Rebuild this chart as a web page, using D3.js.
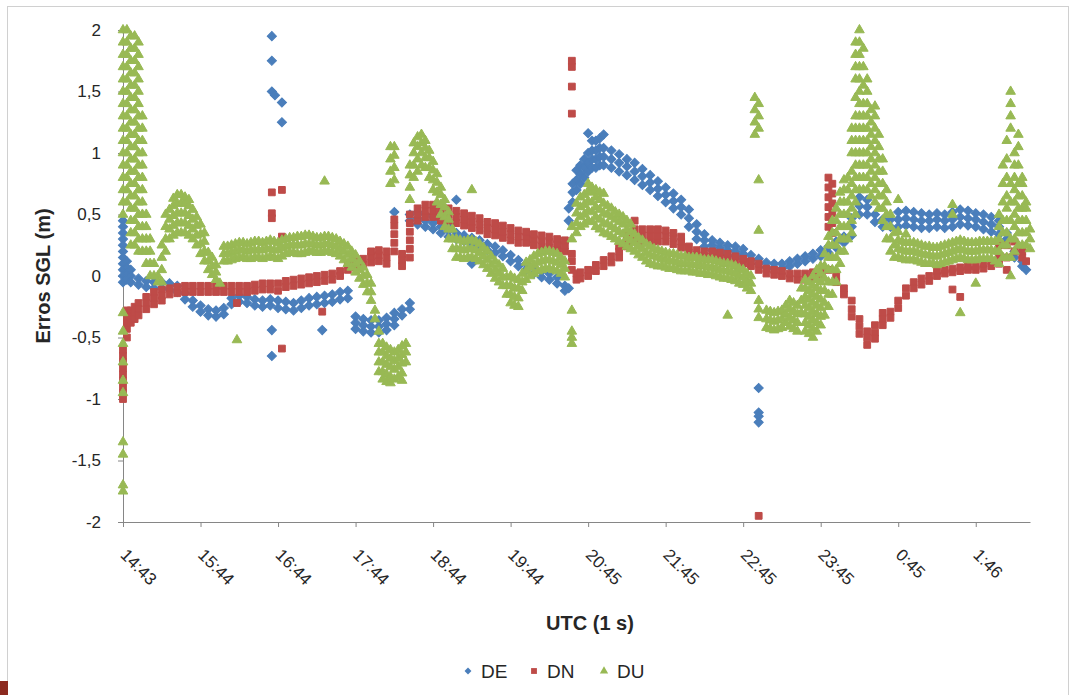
<!DOCTYPE html>
<html>
<head>
<meta charset="utf-8">
<script src="https://cdn.jsdelivr.net/npm/d3@7"></script>
<style>
  body { margin: 0; background: #fff; }
  svg { display: block; font-family: "Liberation Sans", Arial, sans-serif; }
</style>
</head>
<body>
<div id="chart"></div>
<script>
// x = hours elapsed since 14:43 (one tick per hour), y = error in metres
const tickHours = [0, 1, 2, 3, 4, 5, 6, 7, 8, 9, 10, 11]
const tickLabels = ["14:43", "15:44", "16:44", "17:44", "18:44", "19:44", "20:45", "21:45", "22:45", "23:45", "0:45", "1:46"]
const yTicks = [-2, -1.5, -1, -0.5, 0, 0.5, 1, 1.5, 2]

// each row: [hour, value, value, ...]
const deRows = [
  [0, 0.45, 0.4, 0.35, 0.3, 0.25, 0.2, 0.15, 0.1, 0.05, 0, -0.05], [0.05, 0.12, 0.07, 0.02, -0.03],
  [0.1, 0.05, 0, -0.05], [0.2, -0.02, -0.07], [0.3, -0.04, -0.09], [0.4, -0.05, -0.1], [0.5, -0.05, -0.1],
  [0.6, -0.06, -0.11], [0.7, -0.08, -0.13], [0.8, -0.14, -0.19], [0.9, -0.2, -0.25], [1.0, -0.24, -0.29],
  [1.1, -0.27, -0.32], [1.2, -0.28, -0.33], [1.3, -0.26, -0.31], [1.4, -0.18, -0.23], [1.5, -0.16, -0.21],
  [1.6, -0.17, -0.22], [1.7, -0.19, -0.24], [1.8, -0.2, -0.25], [1.9, -0.19, -0.24],
  [1.92, 1.95, 1.75, 1.5, -0.44, -0.65], [1.96, 1.47], [2.0, -0.2, -0.26], [2.05, 1.41, 1.25],
  [2.1, -0.21, -0.27], [2.2, -0.22, -0.28], [2.3, -0.2, -0.26], [2.4, -0.18, -0.24], [2.5, -0.17, -0.23],
  [2.57, -0.44], [2.6, -0.16, -0.22], [2.7, -0.15, -0.21], [2.8, -0.13, -0.19], [2.9, -0.12, -0.18],
  [3.0, -0.33, -0.38, -0.43], [3.1, -0.35, -0.4, -0.45], [3.2, -0.36, -0.41, -0.46], [3.3, -0.36, -0.41, -0.46],
  [3.4, -0.34, -0.39, -0.44], [3.5, -0.3, -0.35, -0.4, 0.52], [3.6, -0.27, -0.32], [3.7, -0.22, -0.27, 0.45, 0.5],
  [3.8, 0.42, 0.47, 0.52], [3.9, 0.4, 0.45, 0.5], [4.0, 0.38, 0.43, 0.48], [4.1, 0.35, 0.4, 0.45],
  [4.2, 0.32, 0.37, 0.42], [4.3, 0.3, 0.35, 0.62], [4.4, 0.28, 0.33], [4.5, 0.26, 0.31, 0.1], [4.6, 0.24, 0.29],
  [4.7, 0.21, 0.26], [4.8, 0.19, 0.24], [4.9, 0.16, 0.21], [5.0, 0.12, 0.17], [5.1, 0.08, 0.13], [5.2, 0.05, 0.1],
  [5.3, 0.02, 0.07], [5.4, -0.01, 0.04], [5.5, -0.03, 0.02], [5.6, -0.06, -0.01], [5.7, -0.08, -0.12],
  [5.75, -0.1, 0.45, 0.55], [5.8, 0.6, 0.68, 0.75], [5.85, 0.7, 0.78, 0.86], [5.9, 0.75, 0.83, 0.9],
  [5.95, 0.8, 0.88, 0.95], [6.0, 0.85, 0.92, 1.0, 1.16], [6.05, 0.88, 0.95, 1.02, 1.1], [6.1, 0.88, 0.95, 1.02, 1.1],
  [6.15, 0.9, 0.97, 1.04, 1.12], [6.2, 0.9, 0.97, 1.04, 1.15], [6.3, 0.88, 0.95, 1.02], [6.4, 0.85, 0.92, 0.99],
  [6.5, 0.82, 0.89, 0.95], [6.6, 0.78, 0.85, 0.92], [6.7, 0.74, 0.81, 0.87], [6.8, 0.7, 0.76, 0.82],
  [6.9, 0.65, 0.71, 0.77], [7.0, 0.6, 0.66, 0.72], [7.1, 0.55, 0.61, 0.67], [7.2, 0.5, 0.56, 0.62],
  [7.3, 0.4, 0.47, 0.54], [7.4, 0.3, 0.36, 0.42], [7.5, 0.24, 0.29, 0.34], [7.6, 0.21, 0.25, 0.29],
  [7.7, 0.19, 0.23, 0.27], [7.8, 0.17, 0.21, 0.25], [7.9, 0.16, 0.2, 0.24], [8.0, 0.14, 0.18, 0.22],
  [8.1, 0.13, 0.17], [8.2, 0.1, 0.14, -0.91, -1.11, -1.14, -1.19], [8.3, 0.07, 0.11], [8.4, 0.06, 0.1],
  [8.5, 0.06, 0.1], [8.6, 0.08, 0.12], [8.7, 0.1, 0.14], [8.8, 0.12, 0.16], [8.9, 0.14, 0.18], [9.0, 0.16, 0.21],
  [9.1, 0.19, 0.24], [9.2, 0.23, 0.28], [9.3, 0.27, 0.32], [9.4, 0.33, 0.4, 0.47], [9.5, 0.5, 0.57, 0.64],
  [9.6, 0.5, 0.56, 0.62], [9.7, 0.44, 0.5], [9.8, 0.4, 0.46], [9.9, 0.4, 0.46], [10.0, 0.4, 0.46, 0.52],
  [10.1, 0.41, 0.47, 0.53], [10.2, 0.4, 0.46, 0.52], [10.3, 0.39, 0.45, 0.51], [10.4, 0.39, 0.45, 0.5],
  [10.5, 0.4, 0.46, 0.51], [10.6, 0.39, 0.45, 0.5], [10.7, 0.4, 0.46, 0.52], [10.8, 0.42, 0.48, 0.54],
  [10.9, 0.41, 0.47, 0.53], [11.0, 0.4, 0.46, 0.51], [11.1, 0.38, 0.44, 0.5], [11.2, 0.36, 0.42, 0.48],
  [11.3, 0.34, 0.4, 0.45], [11.4, 0.3, 0.35], [11.5, 0.15, 0.2], [11.6, 0.08, 0.12], [11.65, 0.05]
]

const dnRows = [
  [0, -0.6, -0.65, -0.7, -0.75, -0.8, -0.85, -0.9, -0.95, -1.0], [0.05, -0.28, -0.33, -0.38, -0.43, -0.5],
  [0.1, -0.28, -0.33, -0.38], [0.15, -0.25, -0.3, -0.35], [0.2, -0.22, -0.27, -0.32], [0.3, -0.17, -0.22, -0.27],
  [0.4, -0.13, -0.18, -0.23], [0.5, -0.11, -0.16, -0.2], [0.6, -0.1, -0.15], [0.7, -0.09, -0.14],
  [0.8, -0.08, -0.13], [0.9, -0.08, -0.13], [1.0, -0.08, -0.13], [1.1, -0.08, -0.13], [1.2, -0.08, -0.13],
  [1.3, -0.08, -0.13], [1.4, -0.08, -0.13], [1.47, -0.22], [1.5, -0.08, -0.13], [1.6, -0.08, -0.13],
  [1.7, -0.07, -0.12], [1.8, -0.06, -0.11], [1.9, -0.06, -0.11], [1.92, 0.68, 0.51, 0.47], [2.0, -0.06, -0.12],
  [2.05, 0.7, 0.32, -0.59], [2.1, -0.04, -0.09], [2.2, -0.03, -0.08], [2.3, -0.02, -0.07], [2.4, -0.01, -0.06],
  [2.5, 0, -0.05], [2.57, -0.29], [2.6, 0.01, -0.04], [2.7, 0.02, -0.03], [2.8, 0.04, 0], [2.9, 0.05, 0.1],
  [3.0, 0.07, 0.12], [3.1, 0.09, 0.14], [3.2, 0.11, 0.16, 0.2], [3.3, 0.12, 0.17, 0.21], [3.4, 0.1, 0.15, 0.2],
  [3.5, 0.2, 0.27, 0.34, 0.41, 0.46], [3.6, 0.08, 0.13, 0.18], [3.7, 0.15, 0.22, 0.29, 0.36, 0.43, 0.5],
  [3.8, 0.45, 0.5, 0.55], [3.9, 0.48, 0.53, 0.58], [4.0, 0.48, 0.53, 0.58], [4.1, 0.45, 0.5, 0.55],
  [4.2, 0.45, 0.5, 0.55], [4.3, 0.43, 0.48, 0.53], [4.4, 0.41, 0.46, 0.51], [4.5, 0.39, 0.44, 0.49],
  [4.6, 0.37, 0.42, 0.47], [4.7, 0.34, 0.39, 0.44], [4.8, 0.33, 0.38, 0.43], [4.9, 0.31, 0.36, 0.41],
  [5.0, 0.29, 0.34, 0.39], [5.1, 0.27, 0.32, 0.37], [5.2, 0.27, 0.32, 0.36], [5.3, 0.25, 0.3, 0.34],
  [5.4, 0.24, 0.29, 0.33], [5.5, 0.23, 0.28, 0.32], [5.6, 0.21, 0.26, 0.3], [5.7, 0.2, 0.25, 0.29],
  [5.79, 0.05, 0.12, 0.18, 1.32, 1.54, 1.7, 1.75], [5.85, -0.03, 0.02], [5.9, -0.02, 0.03], [6.0, 0, 0.05],
  [6.1, 0.04, 0.09], [6.2, 0.08, 0.13], [6.3, 0.11, 0.16], [6.4, 0.15, 0.2, 0.24], [6.5, 0.24, 0.29, 0.33],
  [6.6, 0.28, 0.33, 0.38, 0.45], [6.7, 0.28, 0.33, 0.38], [6.8, 0.28, 0.33, 0.38], [6.9, 0.28, 0.33, 0.38],
  [7.0, 0.28, 0.33, 0.37], [7.1, 0.26, 0.31, 0.35], [7.2, 0.23, 0.28, 0.32], [7.3, 0.19, 0.24], [7.4, 0.17, 0.21],
  [7.5, 0.16, 0.2], [7.6, 0.16, 0.2], [7.7, 0.15, 0.19], [7.8, 0.14, 0.18], [7.9, 0.12, 0.16], [8.0, 0.1, 0.14],
  [8.1, 0.08, 0.12], [8.2, 0.05, 0.1, -1.95], [8.3, 0.02, 0.06], [8.4, 0.01, 0.05], [8.5, 0, 0.04],
  [8.6, -0.02, 0.02], [8.7, -0.03, 0.02], [8.8, -0.03, 0.02], [8.9, -0.02, 0.03], [9.0, 0, 0.05],
  [9.1, 0.05, 0.4, 0.48, 0.56, 0.64, 0.72, 0.8], [9.15, 0.35, 0.43, 0.51, 0.59, 0.67, 0.75], [9.2, -0.05, 0],
  [9.3, -0.1, -0.15], [9.4, -0.2, -0.27, -0.33], [9.5, -0.35, -0.41, -0.47], [9.6, -0.45, -0.5, -0.56],
  [9.7, -0.4, -0.46, -0.51], [9.8, -0.3, -0.35, -0.4], [9.9, -0.29, -0.34], [10.0, -0.2, -0.26],
  [10.1, -0.1, -0.16], [10.2, -0.05, -0.1], [10.3, -0.02, -0.07], [10.4, 0, -0.04], [10.5, 0, 0.04],
  [10.6, 0.02, 0.05], [10.7, 0.03, 0.06, -0.11], [10.8, 0.04, 0.07, -0.17], [10.9, 0.05, 0.08],
  [11.0, 0.05, 0.08], [11.1, 0.06, 0.1], [11.2, 0.08, 0.12], [11.3, 0.1, 0.15, 0.25], [11.4, 0.05, 0.15, 0.25],
  [11.5, 0.2, 0.28], [11.6, 0.15, 0.2], [11.65, 0.12]
]

const duRows = [
  [0, 2.0, 1.9, 1.8, 1.7, 1.6, 1.5, 1.4, 1.3, 1.2, 1.1, 1.0, 0.9, 0.8, 0.7, 0.6, 0.5, -0.3, -0.45, -0.55, -0.7, -0.85, -0.95, -1.35, -1.45, -1.7, -1.75],
  [0.05, 2.0, 1.9, 1.8, 1.7, 1.6, 1.5, 1.4, 1.3, 1.2, 1.1, 1.0, 0.9, 0.8, 0.7, 0.6],
  [0.1, 1.95, 1.85, 1.75, 1.65, 1.55, 1.45, 1.35, 1.25, 1.15, 1.05, 0.95, 0.85, 0.75, 0.65, 0.55, 0.45, 0.35, 0.25],
  [0.15, 1.95, 1.85, 1.75, 1.65, 1.55, 1.45, 1.35, 1.25, 1.15, 1.05, 0.95, 0.85, 0.75, 0.65, 0.55, 0.45, 0.35, 0.25],
  [0.2, 1.9, 1.8, 1.7, 1.6, 1.5, 1.4, 1.3, 1.2, 1.1, 1.0, 0.9, 0.8, 0.7, 0.6, 0.5, 0.4, 0.3, 0.2],
  [0.25, 1.3, 1.2, 1.1, 1.0, 0.9, 0.8, 0.7, 0.6, 0.5, 0.4, 0.3, 0.2], [0.3, 0.5, 0.4, 0.3, 0.2, 0.1],
  [0.35, 0.3, 0.2, 0.1, 0], [0.4, 0.1, 0], [0.45, 0, -0.05], [0.5, -0.05, 0.05, 0.15, 0.25],
  [0.55, 0.2, 0.3, 0.4, 0.5], [0.6, 0.3, 0.38, 0.46, 0.54], [0.65, 0.33, 0.41, 0.49, 0.57, 0.63],
  [0.7, 0.35, 0.43, 0.51, 0.59, 0.66], [0.75, 0.35, 0.43, 0.51, 0.59, 0.66], [0.8, 0.35, 0.43, 0.51, 0.59, 0.64],
  [0.85, 0.33, 0.41, 0.49, 0.57, 0.62], [0.9, 0.3, 0.38, 0.46, 0.54], [0.95, 0.25, 0.33, 0.41, 0.48],
  [1.0, 0.18, 0.26, 0.34, 0.42], [1.05, 0.12, 0.2, 0.28, 0.35], [1.1, 0.05, 0.12, 0.19], [1.15, 0.01, 0.08, 0.15],
  [1.2, -0.03, 0.03, 0.09], [1.25, -0.06], [1.3, 0.12, 0.18, 0.24], [1.35, 0.12, 0.18, 0.24],
  [1.4, 0.13, 0.19, 0.25], [1.45, 0.14, 0.2, 0.26], [1.47, -0.52], [1.5, 0.15, 0.21, 0.27], [1.55, 0.15, 0.21, 0.27],
  [1.6, 0.14, 0.2, 0.26], [1.65, 0.14, 0.21, 0.27], [1.7, 0.15, 0.21, 0.28], [1.75, 0.15, 0.21, 0.28],
  [1.8, 0.14, 0.21, 0.27], [1.85, 0.15, 0.22, 0.28], [1.9, 0.16, 0.22, 0.29], [1.95, 0.15, 0.21, 0.28],
  [2.0, 0.14, 0.21, 0.27], [2.05, 0.16, 0.23, 0.29], [2.1, 0.18, 0.24, 0.3], [2.15, 0.19, 0.25, 0.31],
  [2.2, 0.19, 0.25, 0.31], [2.25, 0.18, 0.25, 0.32], [2.3, 0.18, 0.25, 0.32], [2.35, 0.19, 0.26, 0.33],
  [2.4, 0.2, 0.26, 0.33], [2.45, 0.2, 0.26, 0.32], [2.5, 0.19, 0.25, 0.31], [2.55, 0.19, 0.25, 0.31],
  [2.6, 0.2, 0.26, 0.32, 0.77], [2.65, 0.2, 0.26, 0.32], [2.7, 0.19, 0.25, 0.31], [2.75, 0.18, 0.24, 0.3],
  [2.8, 0.16, 0.22, 0.28], [2.85, 0.13, 0.2, 0.26], [2.9, 0.1, 0.17, 0.24], [2.95, 0.07, 0.14, 0.2],
  [3.0, 0.03, 0.1, 0.17], [3.05, -0.02, 0.05, 0.12], [3.1, -0.07, 0, 0.07], [3.15, -0.13, -0.06, 0.01],
  [3.2, -0.2, -0.13, -0.06], [3.25, -0.28, -0.35],
  [3.3, -0.45, -0.55, -0.62, -0.7, -0.78], [3.35, -0.55, -0.62, -0.7, -0.78, -0.84],
  [3.4, -0.58, -0.65, -0.72, -0.8, -0.86], [3.45, -0.6, -0.67, -0.74, -0.82, -0.87, 0.75, 0.85, 0.95, 1.05],
  [3.5, -0.62, -0.69, -0.76, -0.84, 0.78, 0.88, 0.98, 1.05], [3.55, -0.6, -0.67, -0.74, -0.82],
  [3.6, -0.57, -0.64, -0.71, -0.79, -0.85], [3.65, -0.55, -0.62, -0.7], [3.7, 0.62, 0.72, 0.82, 0.9],
  [3.75, 0.8, 0.9, 1.0, 1.08], [3.8, 0.85, 0.95, 1.05, 1.13], [3.85, 0.9, 1.0, 1.08, 1.15],
  [3.9, 0.88, 0.96, 1.04, 1.1], [3.95, 0.8, 0.88, 0.96, 1.02], [4.0, 0.7, 0.78, 0.86, 0.93],
  [4.05, 0.6, 0.68, 0.76, 0.83], [4.1, 0.5, 0.58, 0.66, 0.72], [4.15, 0.4, 0.48, 0.56, 0.62],
  [4.2, 0.3, 0.38, 0.46, 0.52], [4.25, 0.22, 0.3, 0.38], [4.3, 0.15, 0.22, 0.3], [4.35, 0.15, 0.22, 0.29],
  [4.4, 0.14, 0.21, 0.28], [4.45, 0.15, 0.22, 0.29], [4.5, 0.15, 0.22, 0.29, 0.7], [4.55, 0.14, 0.21, 0.28],
  [4.6, 0.12, 0.19, 0.26], [4.65, 0.09, 0.16, 0.23], [4.7, 0.06, 0.13, 0.2], [4.75, 0.02, 0.09, 0.16],
  [4.8, -0.02, 0.05, 0.12], [4.85, -0.05, 0.02, 0.09], [4.9, -0.08, -0.01, 0.06], [4.95, -0.15, -0.08, -0.01],
  [5.0, -0.22, -0.15, -0.08, 0], [5.05, -0.24, -0.17, -0.1, -0.02], [5.1, -0.25, -0.18, -0.1, -0.03],
  [5.15, -0.12, -0.05, 0.02], [5.2, -0.03, 0.04, 0.11], [5.25, 0, 0.07, 0.13], [5.3, 0.02, 0.09, 0.16],
  [5.35, 0.04, 0.11, 0.18], [5.4, 0.05, 0.12, 0.19], [5.45, 0.06, 0.13, 0.2], [5.5, 0.06, 0.13, 0.2],
  [5.55, 0.05, 0.12, 0.19], [5.6, 0.04, 0.11, 0.18], [5.65, 0.02, 0.09, 0.15], [5.7, -0.01, 0.06, 0.12],
  [5.79, -0.28, -0.45, -0.5, -0.55, 0.3, 0.4],
  [5.85, 0.35, 0.43, 0.51, 0.59], [5.9, 0.4, 0.48, 0.56, 0.64], [5.95, 0.42, 0.5, 0.58, 0.66],
  [6.0, 0.45, 0.53, 0.61, 0.69, 0.75], [6.05, 0.44, 0.52, 0.6, 0.68, 0.72], [6.1, 0.4, 0.48, 0.56, 0.64, 0.7],
  [6.15, 0.38, 0.46, 0.54, 0.62, 0.68], [6.2, 0.35, 0.43, 0.51, 0.59, 0.67], [6.25, 0.34, 0.42, 0.5, 0.57],
  [6.3, 0.32, 0.4, 0.48, 0.55], [6.35, 0.3, 0.38, 0.46, 0.52], [6.4, 0.28, 0.36, 0.44, 0.5],
  [6.45, 0.26, 0.34, 0.42, 0.48], [6.5, 0.24, 0.31, 0.38, 0.45], [6.55, 0.22, 0.29, 0.36, 0.42],
  [6.6, 0.2, 0.27, 0.34], [6.65, 0.17, 0.24, 0.31], [6.7, 0.15, 0.22, 0.29], [6.75, 0.12, 0.19, 0.26],
  [6.8, 0.1, 0.17, 0.24], [6.85, 0.09, 0.16, 0.22], [6.9, 0.08, 0.15, 0.21], [6.95, 0.08, 0.14, 0.2],
  [7.0, 0.07, 0.13, 0.19], [7.05, 0.06, 0.12, 0.18], [7.1, 0.06, 0.12, 0.18], [7.15, 0.05, 0.11, 0.17],
  [7.2, 0.04, 0.1, 0.16], [7.25, 0.04, 0.1, 0.16], [7.3, 0.04, 0.1, 0.15], [7.35, 0.03, 0.09, 0.15],
  [7.4, 0.03, 0.09, 0.15], [7.45, 0.02, 0.08, 0.14], [7.5, 0.02, 0.08, 0.13], [7.55, 0.01, 0.07, 0.13],
  [7.6, 0.01, 0.07, 0.13], [7.65, 0, 0.06, 0.12], [7.7, -0.01, 0.05, 0.11], [7.75, -0.02, 0.04, 0.1],
  [7.8, -0.02, 0.04, 0.1, -0.32], [7.85, -0.03, 0.03, 0.09], [7.9, -0.04, 0.02, 0.08], [7.95, -0.06, 0, 0.06],
  [8.0, -0.07, -0.01, 0.05], [8.05, -0.1, -0.04, 0.02], [8.1, -0.12, -0.06, 0], [8.15, 1.15, 1.25, 1.35, 1.45],
  [8.2, -0.2, -0.27, -0.34, 0.37, 0.78, 1.2, 1.3, 1.4], [8.3, -0.28, -0.35, -0.42], [8.35, -0.29, -0.36, -0.43],
  [8.4, -0.3, -0.37, -0.44], [8.45, -0.29, -0.36, -0.43], [8.5, -0.28, -0.35, -0.42], [8.55, -0.24, -0.31, -0.38],
  [8.6, -0.2, -0.27, -0.34, -0.41], [8.65, -0.22, -0.29, -0.36, -0.43], [8.7, -0.24, -0.31, -0.38, -0.45],
  [8.75, -0.3, -0.2, -0.1], [8.8, -0.45, -0.38, -0.31, -0.24, -0.17, -0.1, -0.03],
  [8.85, -0.47, -0.4, -0.33, -0.26, -0.19, -0.12, -0.05], [8.9, -0.5, -0.43, -0.36, -0.29, -0.22, -0.15, -0.08, 0],
  [8.95, -0.45, -0.38, -0.31, -0.24, -0.17, -0.1, -0.03, 0.05],
  [9.0, -0.4, -0.33, -0.26, -0.19, -0.12, -0.05, 0.02, 0.08], [9.05, -0.32, -0.22, -0.12, -0.02, 0.08, 0.18],
  [9.1, -0.25, -0.15, -0.05, 0.05, 0.15, 0.25, 0.32], [9.15, -0.15, -0.05, 0.05, 0.15, 0.25, 0.35, 0.45],
  [9.2, -0.05, 0.05, 0.15, 0.25, 0.35, 0.45, 0.55], [9.25, 0.1, 0.2, 0.3, 0.4, 0.5, 0.6, 0.68],
  [9.3, 0.2, 0.3, 0.4, 0.5, 0.6, 0.7, 0.78], [9.35, 0.3, 0.4, 0.5, 0.6, 0.7, 0.8],
  [9.4, 0.35, 0.45, 0.55, 0.65, 0.75, 0.85, 1.0, 1.1, 1.2],
  [9.45, 0.5, 0.6, 0.7, 0.8, 0.9, 1.0, 1.1, 1.2, 1.3, 1.45, 1.6, 1.7, 1.8, 1.9],
  [9.5, 0.7, 0.8, 0.9, 1.0, 1.1, 1.2, 1.3, 1.4, 1.5, 1.6, 1.7, 1.8, 1.9, 2.0],
  [9.55, 0.7, 0.8, 0.9, 1.0, 1.1, 1.2, 1.3, 1.4, 1.55, 1.7, 1.85],
  [9.6, 0.7, 0.8, 0.9, 1.0, 1.1, 1.2, 1.3, 1.4, 1.5, 1.6], [9.65, 0.65, 0.75, 0.85, 0.95, 1.05, 1.15, 1.25, 1.35],
  [9.7, 0.6, 0.7, 0.8, 0.9, 1.0, 1.1, 1.2, 1.3, 1.38], [9.75, 0.55, 0.65, 0.75, 0.85, 0.95, 1.05, 1.15],
  [9.8, 0.45, 0.55, 0.65, 0.75, 0.85, 0.95], [9.85, 0.3, 0.4, 0.5, 0.6, 0.7], [9.9, 0.2, 0.3, 0.4, 0.5],
  [9.95, 0.15, 0.25, 0.35], [10.0, 0.15, 0.22, 0.29, 0.36, 0.62], [10.05, 0.14, 0.21, 0.28],
  [10.1, 0.13, 0.2, 0.27, 0.34], [10.15, 0.13, 0.2, 0.27], [10.2, 0.13, 0.2, 0.27], [10.25, 0.12, 0.19, 0.26],
  [10.3, 0.11, 0.18, 0.25], [10.35, 0.1, 0.17, 0.24], [10.4, 0.1, 0.17, 0.24], [10.45, 0.1, 0.16, 0.23],
  [10.5, 0.09, 0.16, 0.23], [10.55, 0.1, 0.17, 0.24], [10.6, 0.11, 0.18, 0.25], [10.65, 0.12, 0.19, 0.26],
  [10.7, 0.13, 0.2, 0.27, 0.5, 0.58], [10.75, 0.14, 0.21, 0.28], [10.8, 0.15, 0.22, 0.29, -0.3],
  [10.85, 0.14, 0.21, 0.28], [10.9, 0.13, 0.2, 0.27], [10.95, 0.13, 0.2, 0.27], [11.0, 0.13, 0.2, 0.27, -0.06],
  [11.05, 0.14, 0.21, 0.28], [11.1, 0.14, 0.21, 0.28], [11.15, 0.14, 0.21, 0.28], [11.2, 0.14, 0.21, 0.28],
  [11.25, 0.12, 0.2, 0.28], [11.3, 0.1, 0.2, 0.3, 0.4, 0.5], [11.35, 0.15, 0.25, 0.35, 0.45, 0.6, 0.75, 0.9],
  [11.4, 0.15, 0.25, 0.35, 0.45, 0.55, 0.65, 0.8, 0.95, 1.1],
  [11.45, 0, 0.15, 0.3, 0.45, 0.6, 0.75, 1.2, 1.3, 1.4, 1.5],
  [11.5, 0.2, 0.3, 0.4, 0.5, 0.6, 0.7, 0.8, 0.9, 1.0], [11.55, 0.25, 0.35, 0.45, 0.55, 0.65, 0.75, 0.9, 1.05, 1.15],
  [11.6, 0.25, 0.35, 0.45, 0.55, 0.65, 0.75, 0.8], [11.65, 0.25, 0.35, 0.45, 0.55, 0.6], [11.7, 0.22, 0.3, 0.38]
]

const seriesNames = ["DE", "DN", "DU"]
const seriesColors = ["#4a7ebb", "#be4b48", "#98b954"]

const width = 1076
const height = 695
const margin = {top: 30, right: 46, bottom: 173, left: 123}

const svg = d3.select("#chart").append("svg")
    .attr("width", width)
    .attr("height", height)

// outer chart border
svg.append("rect")
  .attr("x", 7.5)
  .attr("y", 6.5)
  .attr("width", 1061)
  .attr("height", 700)
  .attr("fill", "#fff")
  .attr("stroke", "#d0d0d0")

svg.append("rect")
  .attr("x", 0)
  .attr("y", 681)
  .attr("width", 8)
  .attr("height", 14)
  .attr("fill", "#8c2a1f")

const x = d3.scaleLinear()
    .domain([0, 11.7])
    .range([margin.left, width - margin.right])

const y = d3.scaleLinear()
    .domain([-2, 2])
    .range([height - margin.bottom, margin.top])

const shapes = [
  d3.symbol().type(d3.symbolSquare).size(42),
  d3.symbol().type(d3.symbolSquare).size(46),
  d3.symbol().type(d3.symbolTriangle).size(40)
]
const rotations = [45, 0, 0]

function flatten (rows) {
  const points = []
  rows.forEach(row => {
    row.slice(1).forEach(v => points.push([row[0], v]))
  })
  return points
}

const allSeries = [deRows, dnRows, duRows].map(flatten)

// axes
const yAxis = d3.axisLeft(y)
    .tickValues(yTicks)
    .tickSize(5)
    .tickFormat(d => d3.format("")(d).replace(".", ",").replace("−", "-"))

const yAxisG = svg.append("g")
    .attr("transform", `translate(${margin.left},0)`)
    .call(yAxis)

yAxisG.select(".domain").attr("stroke", "#868686")
yAxisG.selectAll(".tick line").attr("stroke", "#868686")
yAxisG.selectAll(".tick text")
    .attr("x", -22)
    .attr("fill", "#262626")
    .style("font-size", "17px")

const xAxis = d3.axisBottom(x)
    .tickValues(tickHours)
    .tickSize(5)
    .tickSizeOuter(0)
    .tickFormat((d, i) => tickLabels[i])

const xAxisG = svg.append("g")
    .attr("transform", `translate(0,${y(-2)})`)
    .call(xAxis)

xAxisG.select(".domain").attr("stroke", "#868686")
xAxisG.selectAll(".tick line").attr("stroke", "#868686")
xAxisG.selectAll(".tick text")
    .attr("fill", "#262626")
    .attr("text-anchor", "start")
    .attr("dy", null)
    .attr("y", null)
    .attr("transform", "translate(-4,34) rotate(45)")
    .style("font-size", "17px")

// markers, drawn in series order so DU sits on top
allSeries.forEach((points, i) => {
  svg.append("g")
      .attr("class", `series-${seriesNames[i]}`)
    .selectAll("path")
    .data(points)
    .join("path")
      .attr("d", shapes[i])
      .attr("transform", d => `translate(${x(d[0])},${y(d[1])}) rotate(${rotations[i]})`)
      .attr("fill", seriesColors[i])
      .attr("stroke", seriesColors[i])
      .attr("stroke-width", 1)
})

// titles
svg.append("text")
    .attr("x", 590)
    .attr("y", 630)
    .attr("text-anchor", "middle")
    .attr("font-weight", "bold")
    .attr("fill", "#262626")
    .style("font-size", "20px")
    .text("UTC (1 s)")

svg.append("text")
    .attr("transform", "translate(50,276) rotate(-90)")
    .attr("text-anchor", "middle")
    .attr("font-weight", "bold")
    .attr("fill", "#262626")
    .style("font-size", "20px")
    .text("Erros SGL (m)")

// legend
const legendX = [468, 534, 604]
const legendShapes = [
  d3.symbol().type(d3.symbolSquare).size(24),
  d3.symbol().type(d3.symbolSquare).size(34),
  d3.symbol().type(d3.symbolTriangle).size(30)
]
const legend = svg.append("g").attr("class", "legend")
seriesNames.forEach((name, i) => {
  legend.append("path")
      .attr("d", legendShapes[i])
      .attr("transform", `translate(${legendX[i]},671) rotate(${rotations[i]})`)
      .attr("fill", seriesColors[i])
  legend.append("text")
      .attr("x", legendX[i] + 13)
      .attr("y", 678)
      .attr("fill", "#262626")
      .style("font-size", "19px")
      .text(name)
})
</script>
</body>
</html>
